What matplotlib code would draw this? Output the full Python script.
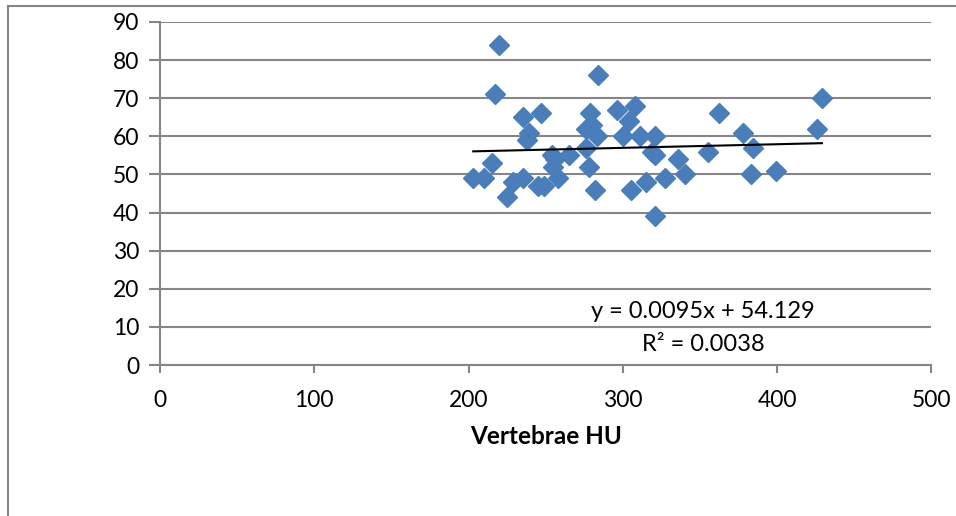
import matplotlib
matplotlib.use("Agg")
import matplotlib.pyplot as plt
from matplotlib.lines import Line2D

# Data
vertebrae_hu = [203, 210, 215, 217, 220, 225, 229, 235, 235, 238,
                239, 245, 247, 249, 254, 255, 256, 258, 265, 276,
                276, 278, 279, 280, 282, 283, 284, 296, 300, 304,
                305, 308, 311, 315, 319, 321, 321, 321, 327, 336,
                340, 355, 362, 378, 383, 384, 399, 426, 429]
values = [49, 49, 53, 71, 84, 44, 48, 49, 65, 59,
          61, 47, 66, 47, 55, 52, 54, 49, 55, 62,
          57, 52, 66, 63, 46, 60, 76, 67, 60, 64,
          46, 68, 60, 48, 56, 55, 60, 39, 49, 54,
          50, 56, 66, 61, 50, 57, 51, 62, 70]

slope = 0.0095
intercept = 54.129
r2 = 0.0038

x_ticks = [0, 100, 200, 300, 400, 500]
y_ticks = [0, 10, 20, 30, 40, 50, 60, 70, 80, 90]

grey = "#868686"
plt.rcParams["font.family"] = ["Lato", "DejaVu Sans"]

fig = plt.figure(figsize=(9.56, 5.16), dpi=100)
ax = fig.add_axes([160 / 956, 1 - 365 / 516, 771.5 / 956, 343 / 516])

ax.plot(vertebrae_hu, values, linestyle="none", marker="D", markersize=10.5,
        color="#4A7EBB", markeredgecolor="#4A7EBB", zorder=3)

# linear trendline over data range
x0, x1 = min(vertebrae_hu), max(vertebrae_hu)
ax.plot([x0, x1], [slope * x0 + intercept, slope * x1 + intercept],
        color="black", linewidth=1.5, zorder=4)

ax.text(352, 14.0, f"y = {slope}x + {intercept}", ha="center", va="center", fontsize=17)
ax.text(352, 5.3, f"R² = {r2}", ha="center", va="center", fontsize=17)

ax.set_xlim(0, 500)
ax.set_ylim(0, 90)
ax.set_xticks(x_ticks)
ax.set_yticks(y_ticks)
ax.tick_params(axis="both", labelsize=16.5, color=grey, width=1.5, pad=7)
ax.tick_params(axis="y", length=8)
ax.tick_params(axis="x", length=6, pad=12)
ax.grid(axis="y", color=grey, linewidth=1.5)
ax.set_axisbelow(True)
for side in ["top", "right"]:
    ax.spines[side].set_visible(False)
for side in ["left", "bottom"]:
    ax.spines[side].set_color(grey)
    ax.spines[side].set_linewidth(1.5)

ax.set_xlabel("Vertebrae HU", fontsize=17.5, fontweight="bold", labelpad=10)

# outer chart-area border (only top and left visible)
fig.add_artist(Line2D([8 / 956, 1], [1 - 6 / 516, 1 - 6 / 516], color=grey, linewidth=1.5))
fig.add_artist(Line2D([8 / 956, 8 / 956], [0, 1 - 6 / 516], color=grey, linewidth=1.5))

fig.savefig("out.png", dpi=100, facecolor="white")
